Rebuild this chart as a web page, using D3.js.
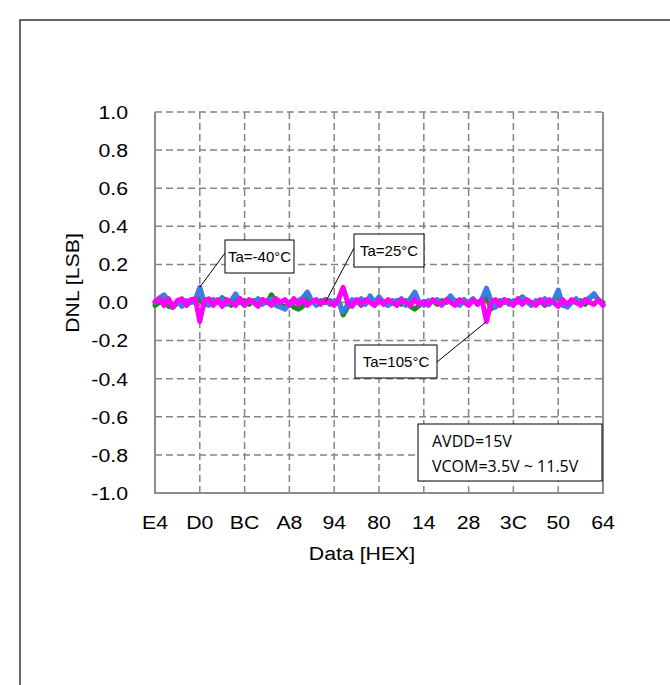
<!DOCTYPE html>
<html>
<head>
<meta charset="utf-8">
<script src="https://cdn.jsdelivr.net/npm/d3@7"></script>
<style>
  body {margin:0; background:#fff;}
  svg {display:block; font-family:"Liberation Sans", Arial, sans-serif;}
</style>
</head>
<body>
<svg id="chart" width="670" height="685"></svg>
<script>
/*** Data ***/
// x axis tick labels (hex codes), one per 10 samples
const xLabels = ["E4","D0","BC","A8","94","80","14","28","3C","50","64"]
const yTicks  = [-1.0,-0.8,-0.6,-0.4,-0.2,0.0,0.2,0.4,0.6,0.8,1.0]

// DNL per sample (2 codes per sample)
const dnlM40 = [0.00,0.025,0.04,0.01,-0.015,0.005,-0.02,0.01,0.00,0.015,
  0.08,0.00,-0.015,0.01,0.00,0.02,-0.01,0.01,0.045,0.005,
  -0.015,0.01,0.00,0.02,-0.01,0.01,0.02,-0.015,-0.025,-0.035,
  -0.01,0.005,0.01,0.025,0.055,0.01,-0.015,0.00,0.015,-0.01,
  0.01,0.00,-0.05,-0.01,0.015,0.00,0.02,-0.01,0.035,0.00,
  0.03,0.00,-0.015,0.01,0.00,0.02,-0.015,0.02,0.055,0.00,
  -0.015,0.01,0.005,0.015,-0.015,0.01,0.035,0.00,-0.015,0.01,
  0.00,0.02,-0.01,0.02,0.075,0.01,-0.025,0.00,0.015,-0.01,
  0.01,0.00,0.025,0.01,-0.015,0.01,0.00,0.02,-0.01,0.01,
  0.065,-0.01,-0.025,0.00,0.02,-0.01,0.01,0.025,0.045,0.01,-0.01]

const dnl25 = [-0.015,0.00,0.02,-0.02,-0.025,0.00,0.01,-0.015,0.005,0.00,
  0.02,-0.015,0.00,0.015,0.00,0.025,0.005,-0.015,0.02,0.00,
  0.01,-0.01,0.01,0.00,0.015,0.00,0.04,0.00,-0.015,-0.025,
  0.00,-0.025,-0.035,-0.02,0.02,0.01,-0.01,0.01,0.00,0.01,
  -0.01,0.01,-0.065,-0.025,0.00,0.01,-0.015,0.005,0.02,-0.015,
  0.02,0.005,-0.015,0.00,0.01,-0.01,0.01,-0.02,-0.035,-0.015,
  0.005,0.00,0.01,-0.01,0.01,0.00,0.02,0.01,0.00,0.015,
  -0.01,0.01,0.00,0.01,0.03,-0.035,-0.015,0.01,0.00,0.01,
  -0.01,0.01,0.03,0.005,-0.015,0.00,0.01,-0.015,0.00,0.01,
  0.035,-0.015,-0.01,0.01,0.00,0.01,-0.01,0.02,0.045,0.01,0.00]

const dnl105 = [0.005,0.02,-0.015,0.02,-0.025,0.01,0.02,-0.015,0.015,0.02,
  -0.10,0.01,0.02,-0.015,0.015,-0.02,0.015,0.00,-0.015,0.02,
  -0.015,0.015,0.00,-0.02,0.015,0.005,-0.015,0.02,0.00,0.015,
  -0.015,0.02,-0.01,0.015,-0.015,0.005,0.015,-0.01,0.015,0.00,
  -0.015,0.02,0.08,0.00,-0.02,0.015,-0.01,0.015,0.00,-0.015,
  0.015,-0.01,0.015,0.00,-0.015,0.015,0.00,-0.015,0.015,-0.01,
  0.005,-0.015,0.015,0.00,-0.01,0.015,0.00,-0.015,0.015,0.00,
  -0.015,0.015,-0.01,0.015,-0.10,0.00,0.015,-0.015,0.015,0.00,
  -0.015,0.02,-0.01,0.015,0.00,-0.015,0.015,-0.01,0.015,0.00,
  -0.02,0.015,-0.01,0.015,0.00,-0.015,0.015,0.00,-0.01,0.015,-0.015]

const seriesNames  = ["Ta=25°C","Ta=-40°C","Ta=105°C"]
const seriesColors = ["#1b8a1b","#3b7de3","#ff00ff"]

/*** Layout ***/
const L = 155, R = 603, T = 112, B = 493
const FS = 19, SX = 1.12   // axis text size, horizontal stretch
const svg = d3.select("#chart")

const x = d3.scaleLinear().domain([0, dnl25.length - 1]).range([L, R])
const xCat = d3.scalePoint().domain(xLabels).range([L, R])
const y = d3.scaleLinear().domain([-1, 1]).range([B, T])

// outer frame
svg.append("rect")
   .attr("x", 20).attr("y", 20)
   .attr("width", 700).attr("height", 700)
   .attr("fill", "none").attr("stroke", "#000").attr("stroke-width", 1.2)

// grid
const grid = svg.append("g").attr("class", "grid")
grid.selectAll("line.h")
    .data(yTicks)
    .enter().append("line")
    .attr("x1", L).attr("x2", R)
    .attr("y1", d => y(d)).attr("y2", d => y(d))
    .attr("stroke", "#858585").attr("stroke-width", 1.5)
    .attr("stroke-dasharray", "7,4")
grid.selectAll("line.v")
    .data(xLabels.slice(1))
    .enter().append("line")
    .attr("x1", d => xCat(d)).attr("x2", d => xCat(d))
    .attr("y1", T).attr("y2", B)
    .attr("stroke", "#858585").attr("stroke-width", 1.5)
    .attr("stroke-dasharray", "7,4")

// axes frame lines
svg.append("path")
   .attr("d", `M${L},${T}V${B}H${R}V${T}`)
   .attr("fill", "none").attr("stroke", "#8c8c8c").attr("stroke-width", 2)

// tick labels (stretched a little, like the original)
const fmt = d => d3.format(".1f")(d).replace("\u2212", "-")
svg.append("g").selectAll("text")
   .data(yTicks)
   .enter().append("text")
   .attr("transform", d => `translate(128,${y(d)}) scale(${SX},1)`)
   .attr("dy", "0.36em").attr("text-anchor", "end").attr("font-size", FS)
   .text(fmt)
svg.append("g").selectAll("text")
   .data(xLabels)
   .enter().append("text")
   .attr("transform", d => `translate(${xCat(d)},528.5) scale(${SX},1)`)
   .attr("text-anchor", "middle").attr("font-size", FS)
   .text(d => d)

svg.append("text")
   .attr("transform", `translate(362,560) scale(${SX},1)`)
   .attr("text-anchor", "middle").attr("font-size", FS)
   .text("Data [HEX]")
svg.append("text")
   .attr("transform", `translate(79,283) rotate(-90) scale(${SX},1)`)
   .attr("text-anchor", "middle").attr("font-size", FS)
   .text("DNL [LSB]")

// curves
const line = d3.line().x((d, i) => x(i)).y(d => y(d))
const curves = [dnl25, dnlM40, dnl105]
svg.append("g").selectAll("path")
   .data(curves)
   .enter().append("path")
   .attr("d", line)
   .attr("fill", "none")
   .attr("stroke", (d, i) => seriesColors[i])
   .attr("stroke-width", 5)
   .attr("stroke-linejoin", "round")
   .attr("stroke-linecap", "round")

// callouts
const callouts = [
  {name: seriesNames[1], i: 10, bx: 225, by: 240, bw: 69, ax: 225, ay: 253, data: dnlM40},
  {name: seriesNames[0], i: 38, bx: 354, by: 234, bw: 70, ax: 354, ay: 248, data: dnl25},
  {name: seriesNames[2], i: 74, bx: 355, by: 345, bw: 82, ax: 437, ay: 362, data: dnl105}
]
const co = svg.append("g")
callouts.forEach(c => {
  co.append("line")
    .attr("x1", c.ax).attr("y1", c.ay)
    .attr("x2", x(c.i)).attr("y2", y(c.data[c.i]))
    .attr("stroke", "#000").attr("stroke-width", 1)
  co.append("rect")
    .attr("x", c.bx).attr("y", c.by).attr("width", c.bw).attr("height", 33)
    .attr("fill", "#fff").attr("stroke", "#000").attr("stroke-width", 1)
  co.append("text")
    .attr("x", c.bx + c.bw / 2).attr("y", c.by + 22)
    .attr("text-anchor", "middle").attr("font-size", 15)
    .text(c.name)
})

// condition box
svg.append("rect")
   .attr("x", 418).attr("y", 424).attr("width", 184).attr("height", 57)
   .attr("fill", "#fff").attr("stroke", "#000").attr("stroke-width", 1)
const cond = ["AVDD=15V", "VCOM=3.5V ~ 11.5V"]
svg.append("g").selectAll("text")
   .data(cond)
   .enter().append("text")
   .attr("x", 432).attr("y", (d, i) => 447 + i * 25)
   .attr("font-family", "Open Sans, sans-serif").attr("font-size", 16)
   .text(d => d)
</script>
</body>
</html>
